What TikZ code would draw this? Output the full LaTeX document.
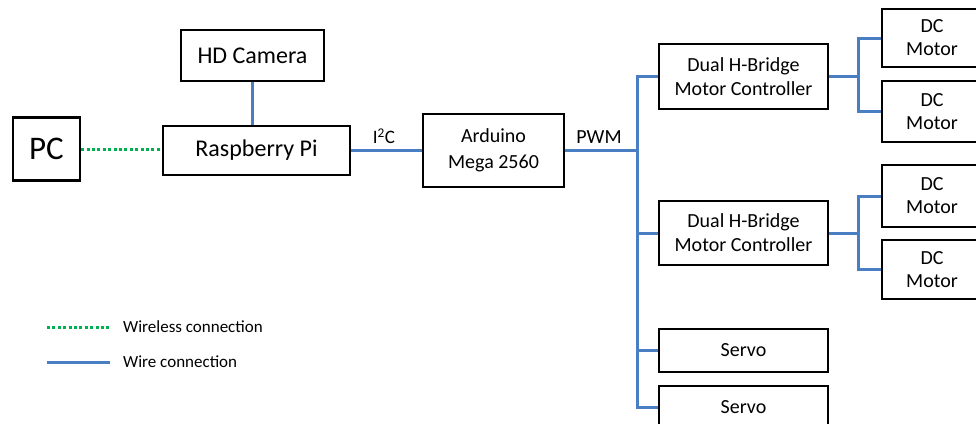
\documentclass[tikz,border=0pt]{standalone}
\usepackage{fontspec}
\setmainfont{Carlito}
\definecolor{wireblue}{HTML}{4A7EC2}
\definecolor{wlgreen}{HTML}{00B050}
\begin{document}
\begin{tikzpicture}[x=1pt,y=-1pt,
  box/.style={draw=black,line width=2.2pt,inner sep=0pt,align=center,font=\fontsize{20}{24}\selectfont},
  wire/.style={draw=wireblue,line width=3pt},
  wless/.style={draw=wlgreen,line width=3pt,dash pattern=on 3pt off 2.4pt},
  lbl/.style={font=\fontsize{20}{24}\selectfont,inner sep=0pt},
  leg/.style={font=\fontsize{17}{20}\selectfont,anchor=west,inner sep=0pt}]
\useasboundingbox (0,0) rectangle (976,423);
\clip (0,0) rectangle (976,423);
\node[box,minimum width=67pt,minimum height=63pt,font=\fontsize{33}{36}\selectfont] (pc) at (46.5,149) {PC};
\node[box,minimum width=143pt,minimum height=51pt,font=\fontsize{24}{28}\selectfont] (cam) at (252.5,55.5) {HD Camera};
\node[box,minimum width=187pt,minimum height=49pt,font=\fontsize{24}{28}\selectfont] (rpi) at (256.5,150.5) {Raspberry Pi};
\node[box,minimum width=141pt,minimum height=73pt,font=\fontsize{20}{26}\selectfont] (ard) at (493.5,150.5) {Arduino\\Mega 2560};
\node[box,minimum width=169pt,minimum height=65pt] (hb1) at (743.5,76.5) {Dual H-Bridge\\Motor Controller};
\node[box,minimum width=169pt,minimum height=64pt] (hb2) at (743.5,233) {Dual H-Bridge\\Motor Controller};
\node[box,minimum width=169pt,minimum height=43pt] (s1) at (743.5,350.5) {Servo};
\node[box,minimum width=169pt,minimum height=43pt] (s2) at (743.5,407.5) {Servo};
\node[box,minimum width=100pt,minimum height=58pt,font=\fontsize{20}{23}\selectfont] (m1) at (932,38) {DC\\Motor};
\node[box,minimum width=100pt,minimum height=61pt,font=\fontsize{20}{23}\selectfont] (m2) at (932,111.5) {DC\\Motor};
\node[box,minimum width=100pt,minimum height=62pt,font=\fontsize{20}{23}\selectfont] (m3) at (932,196) {DC\\Motor};
\node[box,minimum width=100pt,minimum height=59pt,font=\fontsize{20}{23}\selectfont] (m4) at (932,269.5) {DC\\Motor};
% connectors
\draw[wire] (cam.south) -- (cam.south |- rpi.north);
\draw[wless] (pc.east) -- (pc.east -| rpi.west);
\draw[wire] (rpi.east) -- (ard.west);
\coordinate (bus) at (637,150.5);
\draw[wire] (ard.east) -- (bus);
\draw[wire] (bus) |- (hb1.west);
\draw[wire] (bus) |- (hb2.west);
\draw[wire] (bus) |- (s1.west);
\draw[wire] (bus) |- (s2.west);
\coordinate (j1) at (858,76.5);
\coordinate (j2) at (858,233);
\draw[wire] (hb1.east) -- (j1);
\draw[wire] (j1) |- (m1.west);
\draw[wire] (j1) |- (m2.west);
\draw[wire] (hb2.east) -- (j2);
\draw[wire] (j2) |- (m3.west);
\draw[wire] (j2) |- (m4.west);
\node[lbl,font=\fontsize{19}{22}\selectfont] (i2c) at (384,136) {I\textsuperscript{2}C};
\node[lbl] (pwm) at (599,137) {PWM};
% legend
\coordinate (la) at (47,327);
\coordinate (lb) at (110,327);
\coordinate (lc) at (47,362);
\coordinate (ld) at (110,362);
\draw[wless] (la) -- (lb);
\draw[wire] (lc) -- (ld);
\node[leg] (t1) at (123,327) {Wireless connection};
\node[leg] (t2) at (123,362) {Wire connection};
\end{tikzpicture}
\end{document}
